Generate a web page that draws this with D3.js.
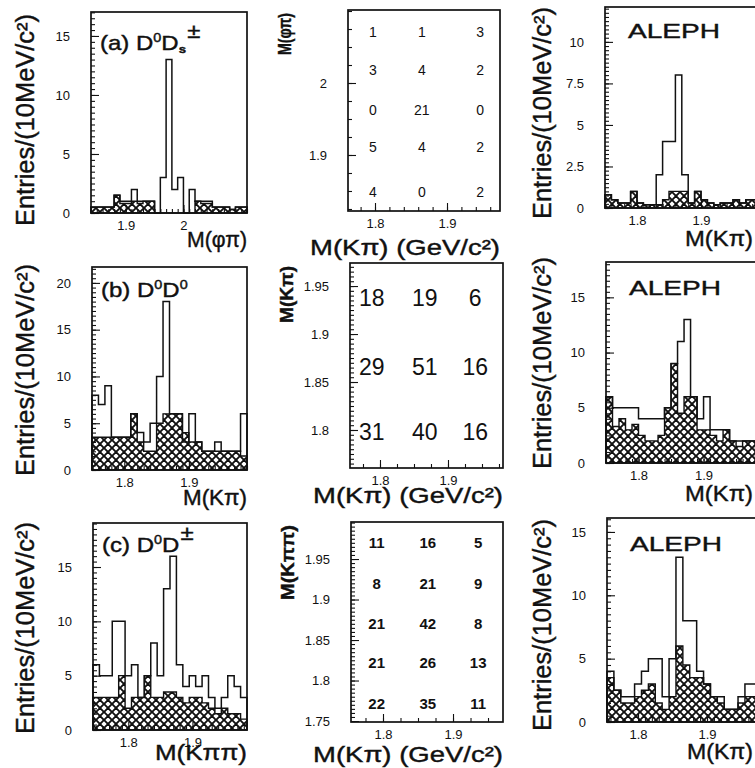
<!DOCTYPE html>
<html lang="en">
<head>
<meta charset="UTF-8">
<title>D0 pair mass spectra</title>
<script src="https://d3js.org/d3.v7.min.js"></script>
<style>
  body { margin: 0; background: #fff; }
  svg { font-family: "Liberation Sans", Arial, Helvetica, sans-serif; fill: #111; }
  .frame { fill: none; stroke: #111; stroke-width: 1.7; }
  .tick line { stroke: #111; stroke-width: 1.1; }
  .tick text { fill: #111; font-size: 13px; font-family: "Liberation Sans", Arial, sans-serif; }
  .outline { fill: none; stroke: #111; stroke-width: 1.5; }
  .bkg { fill: url(#hatch); stroke: #111; stroke-width: 1.4; }
  .title { stroke: #111; stroke-width: 0.4; }
</style>
</head>
<body>
<svg id="fig"></svg>
<script>
// bin width of every histogram (10 MeV)
const binW = 0.01;

// (a) D0 Ds : M(phi pi)
const aStart = 1.84;
const aTotal = [0.5,0.5,0.5,0.5,1.5,1,1,2,1,1,1,0,3,13,2,3,0,2,1,1,1,0.5,0.5,0.5,0.3,0.5,0.5];
const aBkg   = [0.5,0.5,0.5,0.5,1.5,0.8,0.8,1,0.8,1,1,0,0,0,0,0,0,0,1,0.8,0.8,0.5,0.5,0.5,0.3,0.5,0.5];

// (b) D0 D0 : M(K pi)
const bStart = 1.75;
const bTotal = [8,7,9,3.5,3.5,3.5,6,4,3,5,10,18,6,6,3,6,3,2,2,3,2,2,2,6];
const bBkg   = [3.5,3.5,3.5,3.5,3.5,3.5,6,3,2,2,5,6,6,6,4,3,3,2,2,2,2,2,2,1.5];

// (c) D0 D+- : M(K pi pi)
const cStart = 1.745;
const cTotal = [6,5,5,10,10,5,6,3,5,8,5,13,16,6,4,5,4,5,3,2,3,5,4,3];
const cBkg   = [3,3,3,3,5,2,3,3,5,3,3,3.5,3.5,3,2.5,3,3,2.5,2,1.5,2,1.5,1.5,1];

// right column projections : M(K pi)
const r1Start = 1.75;
const r1Total = [0.8,0.5,0.3,0.3,1,0.3,0.2,0.2,2,4,4,8,2,0.3,1,0.5,0.3,0.2,0.3,0.3,0.5,0.3,0.5,0.5];
const r1Bkg   = [0.8,0.5,0.3,0.3,1,0.3,0.2,0.2,0.2,0.5,1,1,1,0.3,1,0.5,0.3,0.2,0.3,0.3,0.5,0.3,0.5,0.5];
const r2Start = 1.75;
const r2Total = [6,5,5,5,5,4,4,4,4,5,9,11,13,6,4,6,3,3,3,2,2,2,2];
const r2Bkg   = [6,3.3,4,3,3.5,2.5,2,2,2.5,5,9,4.5,6,6,3,3,2.5,2,3,2,1.5,2,2];
const r3Start = 1.755;
const r3Total = [4,2.5,2,2,3,4,5,5,2,5,13,8,8,4,3,2,2,1,1,2,3,3];
const r3Bkg   = [3.5,2.5,1.5,1.5,2,2.5,3,1.5,1,2,6,4.5,3.5,3.5,3,2,1.5,1,1,1.5,2,2];

// 2D count tables (rows top to bottom, columns left to right)
const tabA = [[1,1,3],[3,4,2],[0,21,0],[5,4,2],[4,0,2]];
const tabAx = [1.797, 1.865, 1.946];
const tabAy = [2.071, 2.018, 1.9625, 1.911, 1.849];
const tabB = [[18,19,6],[29,51,16],[31,40,16]];
const tabBx = [1.788, 1.866, 1.94];
const tabBy = [1.9375, 1.8656, 1.798];
const tabC = [[11,16,5],[8,21,9],[21,42,8],[21,26,13],[22,35,11]];
const tabCx = [1.791, 1.864, 1.936];
const tabCy = [1.971, 1.920, 1.871, 1.822, 1.772];

// tick values and labels
const ticksY15 = [0,5,10,15];
const ticksY20 = [0,5,10,15,20];
const ticksY10 = [0,2.5,5,7.5,10];
const labY10 = ["0","2.5","5","7.5","10"];
const ticksXa = [1.9, 2.0];
const labXa = ["1.9","2"];
const ticksXk = [1.8, 1.9];
const labXk = ["1.8","1.9"];
const ticksYm1 = [1.9, 2.0];
const labYm1 = ["1.9","2"];
const ticksYm2 = [1.8,1.85,1.9,1.95];
const ticksYm3 = [1.75,1.8,1.85,1.9,1.95];

const yTitle = "Entries/(10MeV/c²)";

const svg = d3.select("#fig").attr("width", 755).attr("height", 768);

// cross hatching of the background histograms
const pat = svg.append("defs").append("pattern")
  .attr("id", "hatch").attr("patternUnits", "userSpaceOnUse")
  .attr("width", 8).attr("height", 8);
pat.append("path")
  .attr("d", "M0,0L8,8M8,0L0,8M-1,7L1,9M7,-1L9,1M-1,1L1,-1M7,9L9,7")
  .attr("stroke", "#111").attr("stroke-width", 1.9);

function axes(g, x, y, box, o) {
  const left = g.append("g").attr("transform", `translate(${box.x},0)`);
  left.append("g").call(d3.axisLeft(y).tickValues(o.yMinor).tickSize(-4).tickFormat(""));
  left.append("g").call(d3.axisLeft(y).tickValues(o.yTicks).tickSize(-8).tickPadding(21)
    .tickFormat((d, i) => o.yLabels ? o.yLabels[i] : String(d)));
  const bottom = g.append("g").attr("transform", `translate(0,${box.y + box.h})`);
  bottom.append("g").call(d3.axisBottom(x).tickValues(o.xMinor).tickSize(-4).tickFormat(""));
  bottom.append("g").call(d3.axisBottom(x).tickValues(o.xTicks).tickSize(-8).tickPadding(8)
    .tickFormat((d, i) => o.xLabels[i]));
  g.selectAll(".domain").remove();
  g.selectAll(".tick text").attr("font-size", null).attr("font-family", null);
}

function minor(lo, hi, step) {
  return d3.range(Math.ceil(lo / step) * step, hi + 1e-9, step);
}

function hist(p) {
  const g = svg.append("g");
  const b = p.box;
  const x = d3.scaleLinear().domain(p.xDomain).range([b.x, b.x + b.w]);
  const y = d3.scaleLinear().domain(p.yDomain).range([b.y + b.h, b.y]);
  const n = p.total.length;
  const end = p.start + n * binW;
  const bk = p.bkg.map((v, i) => [p.start + i * binW, v]).concat([[end, p.bkg[n - 1]]]);
  g.append("path").datum(bk).attr("class", "bkg")
    .attr("d", d3.area().curve(d3.curveStepAfter).x(d => x(d[0])).y0(y(0)).y1(d => y(d[1])));
  const tot = [[p.start, 0]].concat(p.total.map((v, i) => [p.start + i * binW, v]), [[end, p.total[n - 1]], [end, 0]]);
  g.append("path").datum(tot).attr("class", "outline")
    .attr("d", d3.line().curve(d3.curveStepAfter).x(d => x(d[0])).y(d => y(d[1])));
  axes(g, x, y, b, {
    yTicks: p.yTicks, yLabels: p.yLabels, yMinor: minor(p.yDomain[0], p.yDomain[1], p.yStep),
    xTicks: p.xTicks, xLabels: p.xLabels, xMinor: minor(p.xDomain[0], p.xDomain[1], 0.01)
  });
  g.append("rect").attr("class", "frame").attr("x", b.x).attr("y", b.y).attr("width", b.w).attr("height", b.h);
  // y title
  g.append("text").attr("class", "title").attr("transform", `translate(${p.yt[0]},${p.yt[1]}) rotate(-90)`)
    .attr("text-anchor", "middle").attr("font-size", 25)
    .attr("textLength", 212).attr("lengthAdjust", "spacingAndGlyphs").text(yTitle);
  // x title
  g.append("text").attr("class", "title").attr("x", p.xt[0]).attr("y", p.xt[1]).attr("font-size", 22)
    .attr("textLength", p.xt[2]).attr("lengthAdjust", "spacingAndGlyphs").text(p.xTitle);
  // panel label
  if (p.label) {
    const t = g.append("text").attr("class", "title")
      .attr("transform", `translate(${b.x + 9},${p.labelY}) scale(1.2,1)`).attr("font-size", 20);
    p.label.forEach(s => t.append("tspan").text(s.t).attr("font-size", s.fs || 20)
      .attr("dy", s.dy || 0).attr("dx", s.dx || 0).attr("font-weight", s.fw || null));
  } else {
    g.append("text").attr("class", "title").attr("x", b.x + 23).attr("y", p.alephY).attr("font-size", 21)
      .attr("textLength", 92).attr("lengthAdjust", "spacingAndGlyphs").text("ALEPH");
  }
}

function table(p) {
  const g = svg.append("g");
  const b = p.box;
  const x = d3.scaleLinear().domain(p.xDomain).range([b.x, b.x + b.w]);
  const y = d3.scaleLinear().domain(p.yDomain).range([b.y + b.h, b.y]);
  axes(g, x, y, b, {
    yTicks: p.yTicks, yLabels: p.yLabels, yMinor: minor(p.yDomain[0], p.yDomain[1], p.yStep),
    xTicks: ticksXk, xLabels: labXk, xMinor: minor(p.xDomain[0], p.xDomain[1], p.xStep)
  });
  g.append("rect").attr("class", "frame").attr("x", b.x).attr("y", b.y).attr("width", b.w).attr("height", b.h);
  p.cells.forEach((row, r) => row.forEach((v, c) => {
    g.append("text").attr("x", x(p.cx[c])).attr("y", y(p.cy[r]))
      .attr("text-anchor", "middle").attr("dominant-baseline", "central")
      .attr("font-size", p.fs).attr("font-weight", p.fw).text(v);
  }));
  g.append("text").attr("class", "title").attr("transform", `translate(${b.x - 57},${b.y + 3}) rotate(-90)`)
    .attr("text-anchor", "end").attr("font-size", 18).attr("font-weight", "bold")
    .attr("textLength", p.ytLen).attr("lengthAdjust", "spacingAndGlyphs").text(p.yTitle);
  g.append("text").attr("class", "title").attr("x", b.x + b.w).attr("y", p.xtY).attr("text-anchor", "end")
    .attr("font-size", 22).attr("textLength", 190).attr("lengthAdjust", "spacingAndGlyphs").text("M(Kπ) (GeV/c²)");
}

const sup0 = { t: "0", fs: 12, dy: -8 };

hist({ box: { x: 91, y: 12, w: 156, h: 201 }, xDomain: [1.84, 2.11], yDomain: [0, 17.03],
  start: aStart, total: aTotal, bkg: aBkg, yTicks: ticksY15, yStep: 0.5, xTicks: ticksXa, xLabels: labXa,
  yt: [34, 120], xt: [187, 247, 60], xTitle: "M(φπ)", labelY: 50,
  label: [{ t: "(a) D" }, sup0, { t: "D", dy: 8 }, { t: "s", fs: 11, dy: 3, fw: "bold" }, { t: "±", dy: -15, dx: 1 }] });

hist({ box: { x: 92, y: 267, w: 155, h: 203 }, xDomain: [1.75, 1.99], yDomain: [0, 21.7],
  start: bStart, total: bTotal, bkg: bBkg, yTicks: ticksY20, yStep: 0.5, xTicks: ticksXk, xLabels: labXk,
  yt: [34, 370], xt: [183, 505, 64], xTitle: "M(Kπ)", labelY: 297,
  label: [{ t: "(b) D" }, sup0, { t: "D", dy: 8 }, sup0] });

hist({ box: { x: 93, y: 523, w: 154, h: 207 }, xDomain: [1.745, 1.985], yDomain: [0, 19.05],
  start: cStart, total: cTotal, bkg: cBkg, yTicks: ticksY15, yStep: 0.5, xTicks: ticksXk, xLabels: labXk,
  yt: [34, 628], xt: [155, 760, 92], xTitle: "M(Kππ)", labelY: 552,
  label: [{ t: "(c) D" }, sup0, { t: "D", dy: 8 }, { t: "±", dy: -12, dx: 1 }] });

hist({ box: { x: 605, y: 7, w: 160, h: 201 }, xDomain: [1.75, 2.0], yDomain: [0, 12.1],
  start: r1Start, total: r1Total, bkg: r1Bkg, yTicks: ticksY10, yLabels: labY10, yStep: 0.25,
  xTicks: ticksXk, xLabels: labXk, yt: [551, 113], xt: [685, 246, 68], xTitle: "M(Kπ)", alephY: 38 });

hist({ box: { x: 606, y: 262, w: 160, h: 201 }, xDomain: [1.75, 1.996], yDomain: [0, 18.2],
  start: r2Start, total: r2Total, bkg: r2Bkg, yTicks: ticksY15, yStep: 0.5,
  xTicks: ticksXk, xLabels: labXk, yt: [551, 363], xt: [685, 501, 68], xTitle: "M(Kπ)", alephY: 295 });

hist({ box: { x: 607, y: 518, w: 160, h: 204 }, xDomain: [1.755, 1.987], yDomain: [0, 16.1],
  start: r3Start, total: r3Total, bkg: r3Bkg, yTicks: ticksY15, yStep: 0.5,
  xTicks: ticksXk, xLabels: labXk, yt: [551, 625], xt: [687, 759, 66], xTitle: "M(Kπ)", alephY: 551 });

table({ box: { x: 348, y: 10, w: 152, h: 201 }, xDomain: [1.7625, 1.9736], yDomain: [1.8222, 2.1014],
  yTicks: ticksYm1, yLabels: labYm1, yStep: 0.025, xStep: 0.02,
  cells: tabA, cx: tabAx, cy: tabAy, fs: 14, fw: "normal", yTitle: "M(φπ)", ytLen: 42, xtY: 255 });

table({ box: { x: 350, y: 263, w: 153, h: 205 }, xDomain: [1.7559, 1.9809], yDomain: [1.7604, 1.974],
  yTicks: ticksYm2, yStep: 0.005, xStep: 0.025,
  cells: tabB, cx: tabBx, cy: tabBy, fs: 23, fw: "normal", yTitle: "M(Kπ)", ytLen: 57, xtY: 503 });

table({ box: { x: 351, y: 522, w: 152, h: 200 }, xDomain: [1.7543, 1.9714], yDomain: [1.7488, 1.9957],
  yTicks: ticksYm3, yStep: 0.005, xStep: 0.025,
  cells: tabC, cx: tabCx, cy: tabCy, fs: 15, fw: "bold", yTitle: "M(Kππ)", ytLen: 75, xtY: 762 });
</script>
</body>
</html>
